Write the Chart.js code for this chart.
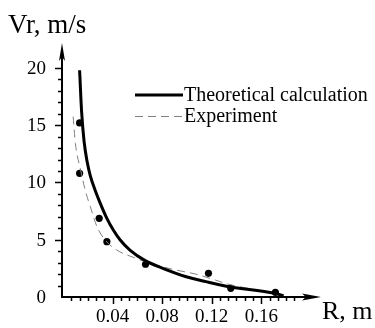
<!DOCTYPE html>
<html>
<head>
<meta charset="utf-8">
<script src="https://cdn.jsdelivr.net/npm/chart.js@4"></script>
<style>
  body { margin: 0; background: #fff; }
  canvas { display: block; }
</style>
</head>
<body>
<canvas id="chart" width="375" height="328"></canvas>
<script>
// Chart data
const theoryR = [0.0134, 0.0150, 0.0170, 0.0195, 0.022, 0.026, 0.030, 0.0354, 0.0406, 0.046, 0.054, 0.066, 0.0806, 0.0994, 0.1154, 0.134, 0.171, 0.178];
const theoryV = [19.8, 16.2, 13.6, 11.8, 10.6, 9.3, 8.2, 6.87, 5.85, 5.0, 4.1, 3.2, 2.5, 1.77, 1.34, 0.9, 0.32, 0.09];

const expCurveR = [0.0082, 0.010, 0.014, 0.018, 0.022, 0.0274, 0.034, 0.0434, 0.0566, 0.0726, 0.091, 0.107, 0.123, 0.134, 0.152, 0.169, 0.174];
const expCurveV = [15.75, 13.4, 11.2, 9.3, 7.9, 6.14, 4.98, 4.1, 3.47, 2.86, 2.36, 2.0, 1.48, 1.1, 0.7, 0.32, 0.17];

const expDotsR = [0.0134, 0.0134, 0.0292, 0.0354, 0.0666, 0.1174, 0.1354, 0.1714];
const expDotsV = [15.2, 10.8, 6.87, 4.83, 2.86, 2.07, 0.76, 0.41];

// Axis ticks and labels
const xTicks = [0.04, 0.08, 0.12, 0.16];
const xTickLabels = ['0.04', '0.08', '0.12', '0.16'];
const yTicks = [0, 5, 10, 15, 20];
const yTickLabels = ['0', '5', '10', '15', '20'];
const legendLabels = ['Theoretical calculation', 'Experiment'];

function toPoints(xs, ys) {
  return xs.map(function (x, i) { return { x: x, y: ys[i] }; });
}

const serif = "'Liberation Serif', 'DejaVu Serif', serif";

// Draws axes with arrows, ticks, labels and the legend
const axesPlugin = {
  id: 'axesPlugin',
  beforeDatasetsDraw(chart) {
    const ctx = chart.ctx;
    const xs = chart.scales.x;
    const ys = chart.scales.y;
    const ax = 62;
    const ay = ys.getPixelForValue(0);
    ctx.save();
    ctx.strokeStyle = '#000';
    ctx.fillStyle = '#000';
    ctx.lineWidth = 2;

    // axis lines
    ctx.beginPath();
    ctx.moveTo(ax, ay);
    ctx.lineTo(ax, 50);
    ctx.moveTo(ax - 1, ay);
    ctx.lineTo(314, ay);
    ctx.stroke();

    // arrows
    ctx.beginPath();
    ctx.moveTo(ax, 43);
    ctx.lineTo(ax + 3, 61);
    ctx.lineTo(ax, 57);
    ctx.lineTo(ax - 3, 61);
    ctx.closePath();
    ctx.fill();
    ctx.beginPath();
    ctx.moveTo(321, ay);
    ctx.lineTo(302, ay - 3.5);
    ctx.lineTo(306, ay);
    ctx.lineTo(302, ay + 3.5);
    ctx.closePath();
    ctx.fill();

    // y ticks
    ctx.lineWidth = 1.5;
    ctx.beginPath();
    for (let v = 1; v <= 20; v++) {
      const py = Math.round(ys.getPixelForValue(v)) + 0.5;
      const len = v % 5 === 0 ? 7 : 4;
      ctx.moveTo(ax, py);
      ctx.lineTo(ax - len, py);
    }
    // x ticks
    const step = 0.04 / 6;
    for (let k = 1; k <= 28; k++) {
      const px = Math.round(xs.getPixelForValue(k * step)) + 0.5;
      const len = k % 6 === 0 ? 7 : 4;
      ctx.moveTo(px, ay);
      ctx.lineTo(px, ay + len);
    }
    ctx.stroke();

    // tick labels
    ctx.font = '19px ' + serif;
    ctx.textAlign = 'right';
    ctx.textBaseline = 'middle';
    yTicks.forEach(function (v, i) {
      ctx.fillText(yTickLabels[i], 46, ys.getPixelForValue(v) + 1);
    });
    ctx.textAlign = 'center';
    ctx.textBaseline = 'alphabetic';
    xTicks.forEach(function (v, i) {
      ctx.fillText(xTickLabels[i], xs.getPixelForValue(v), 322);
    });

    // axis titles
    ctx.font = '27px ' + serif;
    ctx.textAlign = 'left';
    ctx.fillText('Vr, m/s', 8, 33);
    ctx.font = '26px ' + serif;
    ctx.fillText('R, m', 322, 319);

    // legend
    ctx.lineWidth = 3;
    ctx.beginPath();
    ctx.moveTo(135, 95);
    ctx.lineTo(183, 95);
    ctx.stroke();
    ctx.lineWidth = 1;
    ctx.strokeStyle = '#808080';
    ctx.setLineDash([8, 5]);
    ctx.beginPath();
    ctx.moveTo(135, 116.5);
    ctx.lineTo(183, 116.5);
    ctx.stroke();
    ctx.setLineDash([]);
    ctx.font = '20px ' + serif;
    ctx.textBaseline = 'middle';
    ctx.fillStyle = '#000';
    ctx.fillText(legendLabels[0], 184, 96);
    ctx.fillText(legendLabels[1], 184, 117);
    ctx.restore();
  }
};

const ctx = document.getElementById('chart');
const myChart = new Chart(ctx, {
  type: 'scatter',
  data: {
    datasets: [{
      label: legendLabels[0],
      data: toPoints(theoryR, theoryV),
      showLine: true,
      borderColor: '#000',
      borderWidth: 3,
      pointRadius: 0,
      cubicInterpolationMode: 'monotone',
      clip: false
    }, {
      label: legendLabels[1],
      data: toPoints(expCurveR, expCurveV),
      showLine: true,
      borderColor: '#808080',
      borderWidth: 1,
      borderDash: [8, 5],
      pointRadius: 0,
      cubicInterpolationMode: 'monotone',
      clip: false
    }, {
      label: 'points',
      data: toPoints(expDotsR, expDotsV),
      showLine: false,
      pointRadius: 3.6,
      backgroundColor: '#000',
      borderColor: '#000',
      borderWidth: 0,
      clip: false
    }]
  },
  options: {
    responsive: false,
    animation: false,
    layout: {
      padding: { left: 63, right: 55, top: 45, bottom: 31 }
    },
    plugins: {
      legend: { display: false },
      tooltip: { enabled: false }
    },
    scales: {
      x: { type: 'linear', min: 0, max: 0.2074, display: false },
      y: { type: 'linear', min: 0, max: 22, display: false }
    }
  },
  plugins: [axesPlugin]
});
</script>
</body>
</html>
